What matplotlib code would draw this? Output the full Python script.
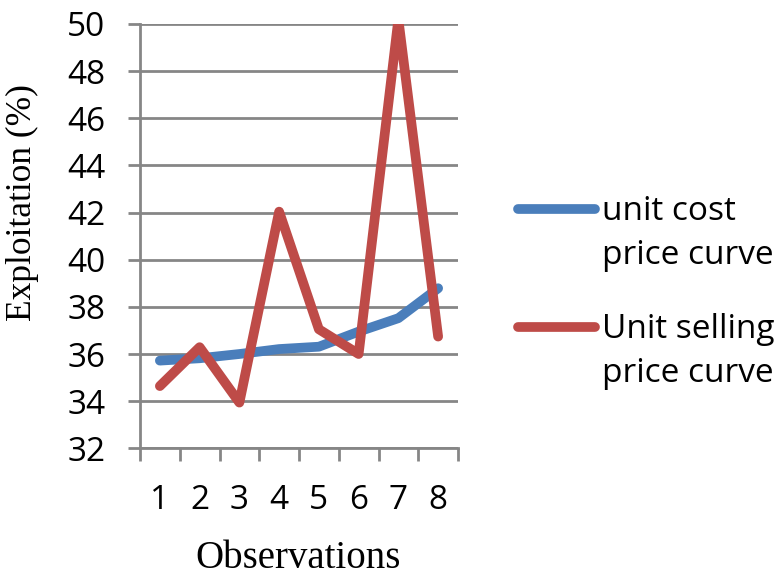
import matplotlib
matplotlib.use("Agg")
import matplotlib.pyplot as plt
from matplotlib.lines import Line2D
from matplotlib.ticker import FixedLocator

observations = [1, 2, 3, 4, 5, 6, 7, 8]
unit_cost = [35.72, 35.82, 36.0, 36.21, 36.31, 36.95, 37.52, 38.79]
unit_selling = [34.64, 36.29, 33.94, 42.04, 37.05, 36.0, 50.2, 36.74]
y_ticks = [32, 34, 36, 38, 40, 42, 44, 46, 48, 50]
series_names = ["unit cost\nprice curve", "Unit selling\nprice curve"]

blue = "#4a7ebb"
red = "#be4b48"
grid_c = "#868686"
tick_font = "Open Sans"

fig = plt.figure(figsize=(7.81, 5.78), dpi=100)
ax = fig.add_axes([140/781, 1-448.3/578, (458-140)/781, (448.3-24)/578])

ax.plot(observations, unit_cost, color=blue, lw=7, solid_capstyle="round", solid_joinstyle="round", zorder=3)
ax.plot(observations, unit_selling, color=red, lw=7, solid_capstyle="round", solid_joinstyle="round", zorder=4)

ax.set_xlim(0.5, 8.5)
ax.set_ylim(32, 50)
ax.set_yticks(y_ticks)
ax.set_yticklabels([str(v) for v in y_ticks], fontsize=24, family=tick_font)
ax.set_xticks(observations)
ax.set_xticklabels([str(v) for v in observations], fontsize=24, family=tick_font)
ax.xaxis.set_minor_locator(FixedLocator([i + 0.5 for i in range(0, 9)]))
ax.tick_params(axis="x", which="major", length=0, pad=26)
ax.tick_params(axis="x", which="minor", length=9, width=2, color=grid_c, direction="out")
ax.tick_params(axis="y", which="major", length=9, width=2, color=grid_c, direction="out", pad=16)

ax.grid(axis="y", color=grid_c, lw=2, zorder=0)
ax.set_axisbelow(True)
for s in ["top", "right"]:
    ax.spines[s].set_visible(False)
for s in ["left", "bottom"]:
    ax.spines[s].set_color(grid_c)
    ax.spines[s].set_linewidth(2)

fig.text(22/781, 1-203/578, "Exploitation (%)", rotation=90, ha="center", va="center",
         fontsize=25.5, family="Liberation Serif")
fig.text(298/781, 1-558/578, "Observations", ha="center", va="center",
         fontsize=28, family="Liberation Serif")

# legend
for color, ly, name in [(blue, 209, series_names[0]), (red, 326.5, series_names[1])]:
    fig.add_artist(Line2D([518/781, 595/781], [1-ly/578, 1-ly/578], color=color, lw=7,
                          solid_capstyle="round", transform=fig.transFigure))
    fig.text(602/781, 1-(ly-14)/578, name, ha="left", va="top", fontsize=24,
             family=tick_font, linespacing=1.45)

fig.savefig("out.png", dpi=100)
